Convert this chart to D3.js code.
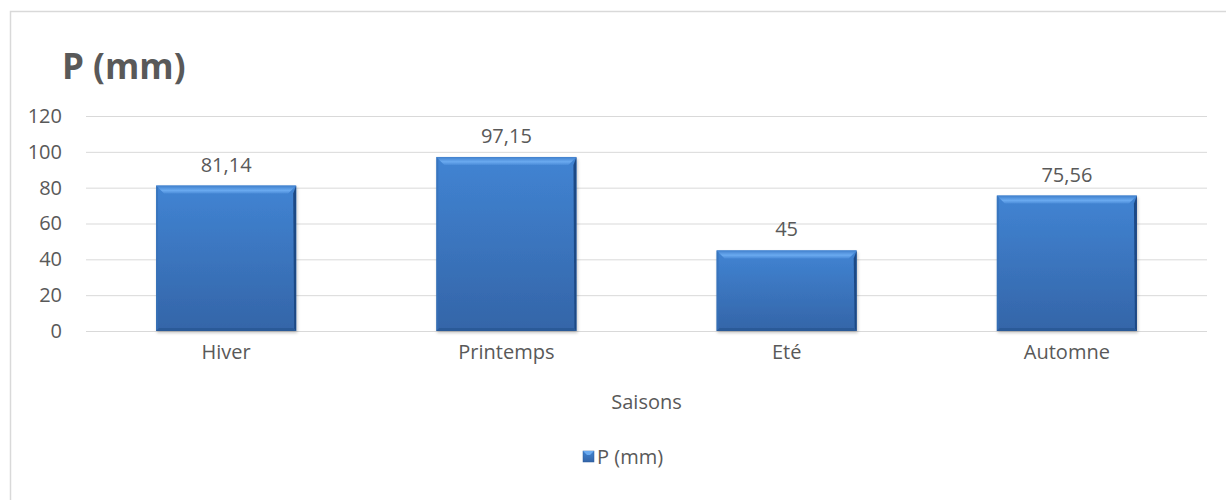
<!DOCTYPE html>
<html>
<head>
<meta charset="utf-8">
<script src="https://cdn.jsdelivr.net/npm/d3@7"></script>
<style>
  body { margin: 0; background: #fff; }
  text { font-family: "Open Sans", "Noto Sans", sans-serif; fill: #595959; }
</style>
</head>
<body>
<svg id="chart" width="1226" height="500"></svg>
<script>
let categories = ["Hiver", "Printemps", "Eté", "Automne"];
let values = [81.14, 97.15, 45, 75.56];
let valueLabels = ["81,14", "97,15", "45", "75,56"];
let yTicks = [0, 20, 40, 60, 80, 100, 120];

let width = 1226, height = 500;
let margin = {left: 86, right: 19, top: 116, bottom: 169};
let fs = "20px";

let svg = d3.select("#chart");

// frame of the chart
svg.append("rect")
    .attr("x", 10.5).attr("y", 11.5)
    .attr("width", width + 20).attr("height", height + 20)
    .attr("fill", "none")
    .attr("stroke", "#d9d9d9")
    .attr("stroke-width", 1.5);

let x = d3.scaleBand()
    .domain(categories)
    .range([margin.left, width - margin.right])
    .paddingInner(0.5)
    .paddingOuter(0.25);

let y = d3.scaleLinear()
    .domain([0, 120])
    .range([height - margin.bottom, margin.top]);

// gradient + bevel defs
let defs = svg.append("defs");
let grad = defs.append("linearGradient").attr("id", "barGrad")
    .attr("x1", 0).attr("y1", 0).attr("x2", 0).attr("y2", 1);
grad.append("stop").attr("offset", "0%").attr("stop-color", "#4184d3");
grad.append("stop").attr("offset", "100%").attr("stop-color", "#3465a8");

let topGrad = defs.append("linearGradient").attr("id", "topGrad")
    .attr("x1", 0).attr("y1", 0).attr("x2", 0).attr("y2", 1);
topGrad.append("stop").attr("offset", "0%").attr("stop-color", "#3f7fcc");
topGrad.append("stop").attr("offset", "60%").attr("stop-color", "#6aaaf0");
topGrad.append("stop").attr("offset", "100%").attr("stop-color", "#4a8bd8");

let shadow = defs.append("filter").attr("id", "shadow")
    .attr("x", "-10%").attr("y", "-10%").attr("width", "120%").attr("height", "120%");
shadow.append("feDropShadow")
    .attr("dx", 1).attr("dy", 2).attr("stdDeviation", 1.5)
    .attr("flood-color", "#000").attr("flood-opacity", 0.22);

// gridlines
svg.append("g")
    .selectAll("line")
    .data(yTicks)
    .enter().append("line")
    .attr("x1", margin.left)
    .attr("x2", width - margin.right)
    .attr("y1", d => y(d) + 0.5)
    .attr("y2", d => y(d) + 0.5)
    .attr("stroke", "#d9d9d9")
    .attr("stroke-width", 1);

// y axis labels
svg.append("g")
    .attr("transform", "translate(" + (margin.left - 24) + ",0)")
    .call(d3.axisLeft(y).tickValues(yTicks).tickSize(0).tickPadding(0))
    .call(g => g.select(".domain").remove())
    .selectAll("text")
    .style("font-size", fs)
    .attr("fill", "#595959");

// x axis labels
svg.append("g")
    .attr("transform", "translate(0," + (y(0) + 14) + ")")
    .call(d3.axisBottom(x).tickSize(0).tickPadding(0))
    .call(g => g.select(".domain").remove())
    .selectAll("text")
    .style("font-size", fs)
    .attr("fill", "#595959");

// bars
let bev = 8;
let bars = svg.append("g").selectAll("g")
    .data(values)
    .enter().append("g")
    .attr("filter", "url(#shadow)");

bars.append("rect")
    .attr("x", (d, i) => x(categories[i]))
    .attr("y", d => y(d))
    .attr("width", x.bandwidth())
    .attr("height", d => y(0) - y(d))
    .attr("fill", "url(#barGrad)");

// top bevel
bars.append("polygon")
    .attr("points", (d, i) => {
        let x0 = x(categories[i]), x1 = x0 + x.bandwidth(), t = y(d);
        return [[x0, t], [x1, t], [x1 - bev, t + bev], [x0 + bev, t + bev]].join(" ");
    })
    .attr("fill", "url(#topGrad)");

// right edge, darker
bars.append("polygon")
    .attr("points", (d, i) => {
        let x1 = x(categories[i]) + x.bandwidth(), t = y(d), b = y(0);
        return [[x1, t], [x1, b], [x1 - 2, b - 2], [x1 - 3, t + bev]].join(" ");
    })
    .attr("fill", "#1f4a85");

// left edge, slightly darker
bars.append("polygon")
    .attr("points", (d, i) => {
        let x0 = x(categories[i]), t = y(d), b = y(0);
        return [[x0, t], [x0 + 2, t + 2], [x0 + 2, b - 2], [x0, b]].join(" ");
    })
    .attr("fill", "#3670b8")
    .attr("opacity", 0.7);

// bottom edge
bars.append("polygon")
    .attr("points", (d, i) => {
        let x0 = x(categories[i]), x1 = x0 + x.bandwidth(), b = y(0);
        return [[x0, b], [x0 + 3, b - 3], [x1 - 3, b - 3], [x1, b]].join(" ");
    })
    .attr("fill", "#2b5a98");

// value labels
svg.append("g").selectAll("text")
    .data(values)
    .enter().append("text")
    .attr("x", (d, i) => x(categories[i]) + x.bandwidth() / 2)
    .attr("y", d => y(d) - 14)
    .attr("text-anchor", "middle")
    .style("font-size", fs)
    .text((d, i) => valueLabels[i]);

// title
svg.append("text")
    .attr("x", 62).attr("y", 79)
    .style("font-size", "35px")
    .style("font-weight", "bold")
    .text("P (mm)");

// axis title
svg.append("text")
    .attr("x", (margin.left + width - margin.right) / 2)
    .attr("y", 409)
    .attr("text-anchor", "middle")
    .style("font-size", fs)
    .text("Saisons");

// legend
let lg = svg.append("g").attr("transform", "translate(583,451)");
lg.append("rect").attr("x", 0).attr("y", 0).attr("width", 11).attr("height", 11)
    .attr("fill", "url(#barGrad)").attr("stroke", "#2b5a98").attr("stroke-width", 0.5);
lg.append("polygon").attr("points", "0,0 11,0 7,4 4,4").attr("fill", "#6aaaf0");
lg.append("text").attr("x", 14).attr("y", 13)
    .style("font-size", fs)
    .text("P (mm)");
</script>
</body>
</html>
